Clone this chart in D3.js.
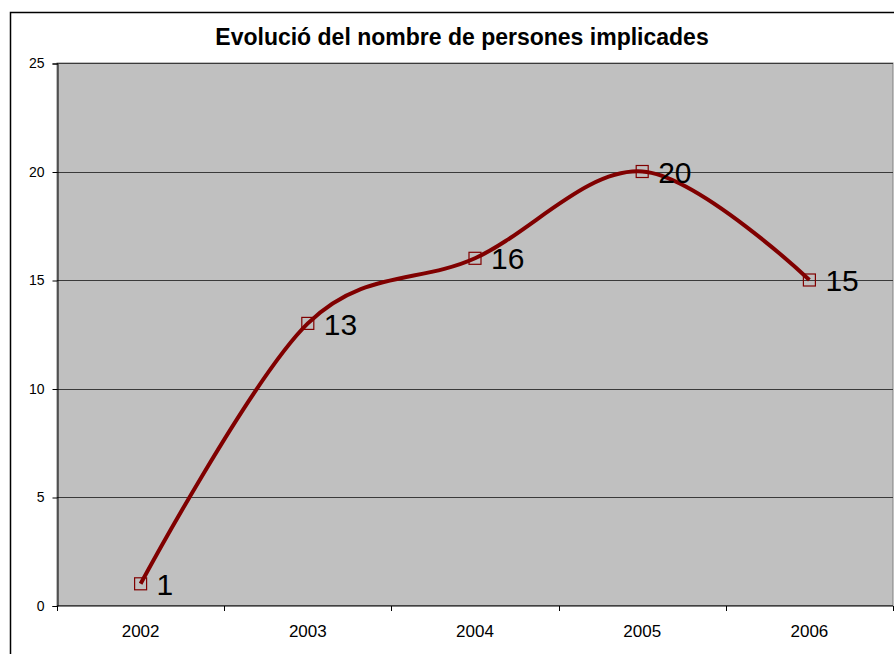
<!DOCTYPE html>
<html>
<head>
<meta charset="utf-8">
<script src="https://cdn.jsdelivr.net/npm/d3@7/dist/d3.min.js"></script>
<style>
  html, body { margin: 0; padding: 0; background: #fff; }
  svg { display: block; font-family: "Liberation Sans", Arial, sans-serif; }
</style>
</head>
<body>
<svg id="chart" width="894" height="654"></svg>
<script>
(function () {
    'use strict';

    var years = ['2002', '2003', '2004', '2005', '2006'];
    var persones = [1, 13, 16, 20, 15];
    var yTicks = [0, 5, 10, 15, 20, 25];
    var title = 'Evolució del nombre de persones implicades';

    var svg = d3.select('#chart');
    var left = 57, right = 893, top = 63, bottom = 605.5;

    var x = d3.scaleBand().domain(years).range([left, right]);
    var y = d3.scaleLinear().domain([0, 25]).range([bottom, top]);

    // chart border (runs off the right and bottom edge)
    svg.append('rect')
        .attr('x', 10.5).attr('y', 12.5)
        .attr('width', 1000).attr('height', 1000)
        .attr('fill', '#fff')
        .attr('stroke', '#000')
        .attr('stroke-width', 1.5);

    svg.append('text')
        .attr('x', 462).attr('y', 45)
        .attr('text-anchor', 'middle')
        .style('font-size', '23px')
        .style('font-weight', 'bold')
        .text(title);

    // plot area
    svg.append('rect')
        .attr('x', left).attr('y', top)
        .attr('width', right - left).attr('height', bottom - top)
        .attr('fill', '#c0c0c0')
        .attr('stroke', '#808080');

    // gridlines
    svg.append('g').selectAll('line')
        .data(yTicks.filter(function (d) { return d > 0; }))
        .enter().append('line')
        .attr('x1', left).attr('x2', right)
        .attr('y1', function (d) { return Math.round(y(d)) + 0.5; })
        .attr('y2', function (d) { return Math.round(y(d)) + 0.5; })
        .attr('stroke', '#3a3a3a')
        .attr('stroke-width', 1);

    // y axis
    var yAxis = svg.append('g')
        .attr('transform', 'translate(' + (left + 0.5) + ',0.5)')
        .call(d3.axisLeft(y).tickValues(yTicks).tickSize(5).tickPadding(8));
    yAxis.selectAll('text').style('font-size', '14px').attr('fill', '#000');
    yAxis.select('.domain').attr('stroke', '#000');

    // x axis, ticks between categories
    var xAxis = svg.append('g')
        .attr('transform', 'translate(0,' + (bottom + 0.5) + ')');
    xAxis.append('line')
        .attr('x1', left).attr('x2', right)
        .attr('stroke', '#000');
    var bounds = years.map(function (d) { return x(d); }).concat([right]);
    xAxis.selectAll('line.tk')
        .data(bounds)
        .enter().append('line')
        .attr('class', 'tk')
        .attr('x1', function (d) { return Math.round(d) + 0.5; })
        .attr('x2', function (d) { return Math.round(d) + 0.5; })
        .attr('y1', 0).attr('y2', 5)
        .attr('stroke', '#000');
    xAxis.selectAll('text')
        .data(years)
        .enter().append('text')
        .attr('x', function (d) { return x(d) + x.bandwidth() / 2; })
        .attr('y', 31)
        .attr('text-anchor', 'middle')
        .style('font-size', '17px')
        .text(function (d) { return d; });

    var pts = years.map(function (d, i) {
        return [x(d) + x.bandwidth() / 2, y(persones[i])];
    });

    var line = d3.line().curve(d3.curveCardinal.tension(0));
    svg.append('path')
        .attr('d', line(pts))
        .attr('fill', 'none')
        .attr('stroke', '#800000')
        .attr('stroke-width', 4)
        .attr('stroke-linejoin', 'round');

    svg.append('g').selectAll('rect')
        .data(pts)
        .enter().append('rect')
        .attr('x', function (d) { return d[0] - 6; })
        .attr('y', function (d) { return d[1] - 6; })
        .attr('width', 12).attr('height', 12)
        .attr('fill', 'none')
        .attr('stroke', '#800000')
        .attr('stroke-width', 1.2);

    svg.append('g').selectAll('text')
        .data(pts)
        .enter().append('text')
        .attr('x', function (d) { return d[0] + 16; })
        .attr('y', function (d) { return d[1]; })
        .attr('dy', '0.37em')
        .style('font-size', '30px')
        .text(function (d, i) { return persones[i]; });
}());
</script>
</body>
</html>
